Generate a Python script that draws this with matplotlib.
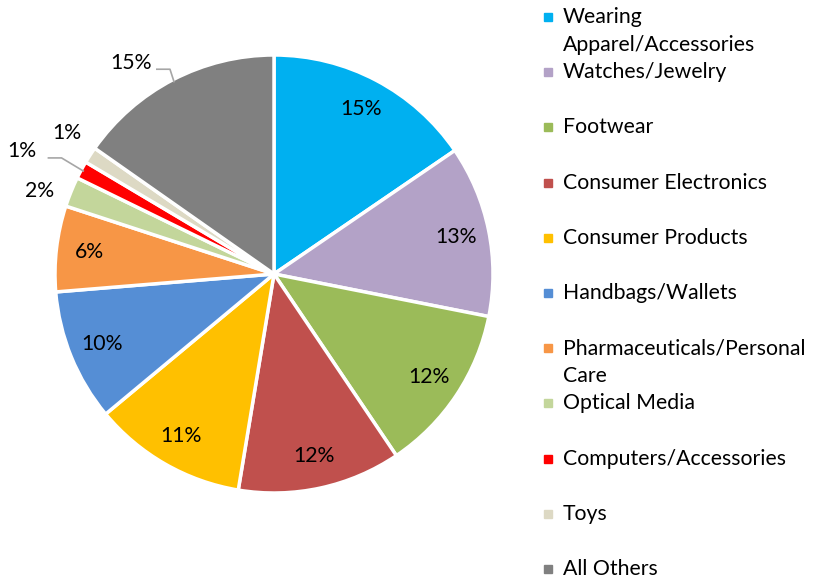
import numpy as np
import matplotlib
matplotlib.use('Agg')
import matplotlib.pyplot as plt

categories = ['Wearing Apparel/Accessories', 'Watches/Jewelry', 'Footwear',
              'Consumer Electronics', 'Consumer Products', 'Handbags/Wallets',
              'Pharmaceuticals/Personal Care', 'Optical Media',
              'Computers/Accessories', 'Toys', 'All Others']
shares = [15.4, 12.6, 12.4, 12.0, 11.3, 9.7, 6.3, 2.2, 1.3, 1.2, 15.2]
colors = ['#00B0F0', '#B3A2C7', '#9BBB59', '#C0504D', '#FFC000', '#558ED5',
          '#F79646', '#C3D69B', '#FF0000', '#DDD9C4', '#808080']
# legend text as wrapped in the original
legend_lines = [['Wearing', 'Apparel/Accessories'], ['Watches/Jewelry'], ['Footwear'],
                ['Consumer Electronics'], ['Consumer Products'], ['Handbags/Wallets'],
                ['Pharmaceuticals/Personal', 'Care'], ['Optical Media'],
                ['Computers/Accessories'], ['Toys'], ['All Others']]

# labels placed outside the pie: text position in data units, leader line or not
outside = {'Optical Media': ((-1.07, 0.38), False),
           'Computers/Accessories': ((-1.15, 0.56), True),
           'Toys': ((-0.945, 0.645), False),
           'All Others': ((-0.655, 0.965), True)}

plt.rcParams['font.family'] = ['Lato', 'DejaVu Sans']
FS = 15.3

W, H = 819, 582
fig = plt.figure(figsize=(W / 100, H / 100), dpi=100)
cx, cy, r = 274, 274, 219
ax = fig.add_axes([(cx - r) / W, (H - cy - r) / H, 2 * r / W, 2 * r / H])

wedges, _ = ax.pie(shares, colors=colors, startangle=90, counterclock=False,
                   radius=1.0, wedgeprops=dict(edgecolor='white', linewidth=2.5))
ax.set_xlim(-1, 1)
ax.set_ylim(-1, 1)
ax.axis('off')

for w, cat, v in zip(wedges, categories, shares):
    mid = np.deg2rad((w.theta1 + w.theta2) / 2)
    txt = f'{v:.0f}%'
    if cat in outside:
        (tx, ty), leader = outside[cat]
        ax.text(tx, ty, txt, ha='center', va='center', fontsize=FS, color='#000000')
        if leader:
            ex, ey = np.cos(mid), np.sin(mid)
            sx = tx + 0.12
            ax.plot([sx, sx + 0.06, ex - 0.01 * np.cos(mid)],
                    [ty - 0.03, ty - 0.03, ey - 0.01 * np.sin(mid)],
                    color='#A6A6A6', lw=1.2, clip_on=False)
    else:
        ax.text(0.85 * np.cos(mid), 0.85 * np.sin(mid), txt, ha='center', va='center',
                fontsize=FS, color='#000000')

# legend drawn by hand to keep the even row spacing of the original
row0, step, line_gap = 17, 55.2, 28
for i, (lines, c) in enumerate(zip(legend_lines, colors)):
    y = row0 + i * step
    fig.patches.append(plt.Rectangle(((548 - 4) / W, 1 - (y + 4) / H), 8 / W, 8 / H,
                                     transform=fig.transFigure, color=c))
    for j, line in enumerate(lines):
        fig.text(563 / W, 1 - (y + j * line_gap) / H, line, fontsize=FS,
                 ha='left', va='center', color='#000000')

fig.savefig('out.png', dpi=100)
